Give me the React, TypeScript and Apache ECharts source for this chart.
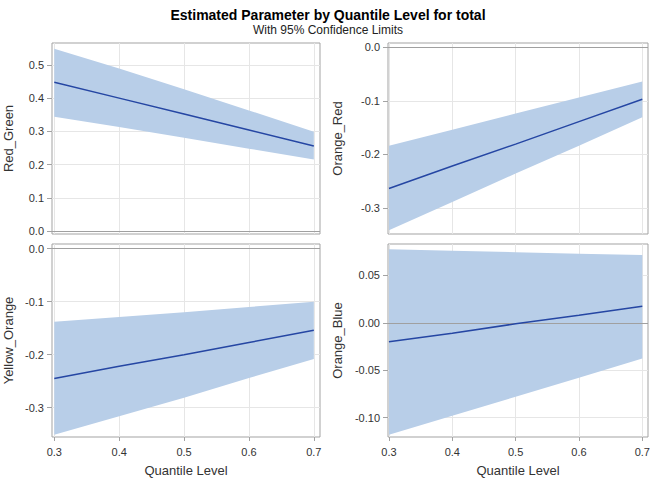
import React, { useEffect, useRef } from "react";
import * as echarts from "echarts";

const quantiles = [0.3, 0.4, 0.5, 0.6, 0.7];
const xTicks = [0.3, 0.4, 0.5, 0.6, 0.7];

const panelNames = ["Red_Green", "Orange_Red", "Yellow_Orange", "Orange_Blue"];

const redGreenEst = [0.448, 0.4, 0.352, 0.304, 0.256];
const redGreenUpper = [0.549, 0.489, 0.427, 0.363, 0.299];
const redGreenLower = [0.344, 0.313, 0.281, 0.248, 0.215];

const orangeRedEst = [-0.264, -0.222, -0.181, -0.139, -0.097];
const orangeRedUpper = [-0.184, -0.154, -0.124, -0.094, -0.064];
const orangeRedLower = [-0.342, -0.289, -0.236, -0.184, -0.131];

const yellowOrangeEst = [-0.245, -0.222, -0.2, -0.177, -0.154];
const yellowOrangeUpper = [-0.138, -0.129, -0.12, -0.11, -0.1];
const yellowOrangeLower = [-0.351, -0.316, -0.281, -0.244, -0.208];

const orangeBlueEst = [-0.02, -0.011, -0.001, 0.008, 0.0176];
const orangeBlueUpper = [0.0776, 0.0761, 0.0746, 0.073, 0.0715];
const orangeBlueLower = [-0.118, -0.098, -0.078, -0.058, -0.0377];

const redGreenTicks = [0, 0.1, 0.2, 0.3, 0.4, 0.5];
const orangeRedTicks = [-0.3, -0.2, -0.1, 0];
const yellowOrangeTicks = [-0.3, -0.2, -0.1, 0];
const orangeBlueTicks = [-0.1, -0.05, 0, 0.05];

const FONT = "'Liberation Sans', Arial, sans-serif";
const BAND = "#b8cee8";
const LINE = "#2546a3";
const FRAME = "#a3a3a3";
const GRIDLINE = "#e6e6e6";

type Panel = {
  name: string;
  est: number[];
  upper: number[];
  lower: number[];
  ticks: number[];
  decimals: number;
  yMin: number;
  yMax: number;
  grid: { left: number; top: number; width: number; height: number };
  xMin: number;
  xMax: number;
  nameGap: number;
  bottom: boolean;
};

const panels: Panel[] = [
  {
    name: panelNames[0], est: redGreenEst, upper: redGreenUpper, lower: redGreenLower,
    ticks: redGreenTicks, decimals: 1, yMin: -0.009, yMax: 0.566,
    grid: { left: 52, top: 43, width: 268, height: 191 }, xMin: 0.2965, xMax: 0.7095,
    nameGap: 37, bottom: false,
  },
  {
    name: panelNames[1], est: orangeRedEst, upper: orangeRedUpper, lower: orangeRedLower,
    ticks: orangeRedTicks, decimals: 1, yMin: -0.349, yMax: 0.008,
    grid: { left: 388, top: 43, width: 260, height: 191 }, xMin: 0.2985, xMax: 0.709,
    nameGap: 44, bottom: false,
  },
  {
    name: panelNames[2], est: yellowOrangeEst, upper: yellowOrangeUpper, lower: yellowOrangeLower,
    ticks: yellowOrangeTicks, decimals: 1, yMin: -0.3553, yMax: 0.0089,
    grid: { left: 52, top: 244, width: 268, height: 193 }, xMin: 0.2965, xMax: 0.7095,
    nameGap: 37, bottom: true,
  },
  {
    name: panelNames[3], est: orangeBlueEst, upper: orangeBlueUpper, lower: orangeBlueLower,
    ticks: orangeBlueTicks, decimals: 2, yMin: -0.1205, yMax: 0.0832,
    grid: { left: 388, top: 244, width: 260, height: 193 }, xMin: 0.2985, xMax: 0.709,
    nameGap: 44, bottom: true,
  },
];

function buildOption() {
  const grid = panels.map((p) => ({
    ...p.grid,
    show: true,
    borderColor: FRAME,
    borderWidth: 1,
    backgroundColor: "transparent",
    containLabel: false,
  }));

  const xAxis = panels.map((p, i) => ({
    type: "value",
    gridIndex: i,
    min: p.xMin,
    max: p.xMax,
    axisLine: { show: false, onZero: false },
    axisTick: {
      show: p.bottom,
      length: 4,
      lineStyle: { color: FRAME },
      customValues: xTicks,
    },
    axisLabel: {
      show: p.bottom,
      customValues: xTicks,
      formatter: (v: number) => v.toFixed(1),
      fontSize: 11,
      fontFamily: FONT,
      color: "#333",
      margin: 9,
    },
    splitLine: { show: true, lineStyle: { color: GRIDLINE, width: 1 } },
    name: p.bottom ? "Quantile Level" : "",
    nameLocation: "middle",
    nameGap: 27,
    nameTextStyle: { fontSize: 13, fontFamily: FONT, color: "#333" },
  }));

  const yAxis = panels.map((p, i) => ({
    type: "value",
    gridIndex: i,
    min: p.yMin,
    max: p.yMax,
    axisLine: { show: false, onZero: false },
    axisTick: {
      show: true,
      length: 5,
      lineStyle: { color: FRAME },
      customValues: p.ticks,
    },
    axisLabel: {
      customValues: p.ticks,
      formatter: (v: number) => (Math.abs(v) < 1e-9 ? 0 : v).toFixed(p.decimals),
      fontSize: 11,
      fontFamily: FONT,
      color: "#333",
      margin: 8,
    },
    splitLine: { show: true, lineStyle: { color: GRIDLINE, width: 1 } },
    name: p.name,
    nameLocation: "middle",
    nameGap: p.nameGap,
    nameTextStyle: { fontSize: 13, fontFamily: FONT, color: "#333" },
  }));

  const series: any[] = [];
  panels.forEach((p, i) => {
    series.push({
      type: "custom",
      xAxisIndex: i,
      yAxisIndex: i,
      data: quantiles.map((q, k) => [q, p.lower[k], p.upper[k]]),
      encode: { x: 0, y: [1, 2] },
      silent: true,
      z: 1,
      renderItem: (params: any, api: any) => {
        if (params.dataIndex !== 0) return null;
        const top = quantiles.map((q, k) => api.coord([q, p.upper[k]]));
        const bot = quantiles.map((q, k) => api.coord([q, p.lower[k]])).reverse();
        return {
          type: "polygon",
          shape: { points: top.concat(bot) },
          style: { fill: BAND, stroke: "none" },
        };
      },
    });
    series.push({
      type: "line",
      xAxisIndex: i,
      yAxisIndex: i,
      data: quantiles.map((q, k) => [q, p.est[k]]),
      symbol: "none",
      lineStyle: { color: LINE, width: 1.5 },
      silent: true,
      z: 3,
      markLine: {
        silent: true,
        symbol: "none",
        label: { show: false },
        lineStyle: { color: "#a0a0a0", type: "solid", width: 1.2 },
        data: [{ yAxis: 0 }],
        z: 2,
      },
    });
  });

  return {
    animation: false,
    backgroundColor: "#ffffff",
    title: {
      text: "Estimated Parameter by Quantile Level for total",
      subtext: "With 95% Confidence Limits",
      left: "center",
      top: 3,
      itemGap: 2,
      textStyle: { fontSize: 14, fontWeight: "bold", fontFamily: FONT, color: "#000" },
      subtextStyle: { fontSize: 12, fontFamily: FONT, color: "#222" },
    },
    grid,
    xAxis,
    yAxis,
    series,
  };
}

export default function App() {
  const ref = useRef<HTMLDivElement>(null);
  useEffect(() => {
    document.body.style.margin = "0";
    if (!ref.current) return;
    const chart = echarts.init(ref.current, undefined, { renderer: "svg" });
    chart.setOption(buildOption() as any);
    return () => chart.dispose();
  }, []);
  return (
    <div
      ref={ref}
      style={{ position: "absolute", left: 0, top: 0, width: 656, height: 481 }}
    />
  );
}
